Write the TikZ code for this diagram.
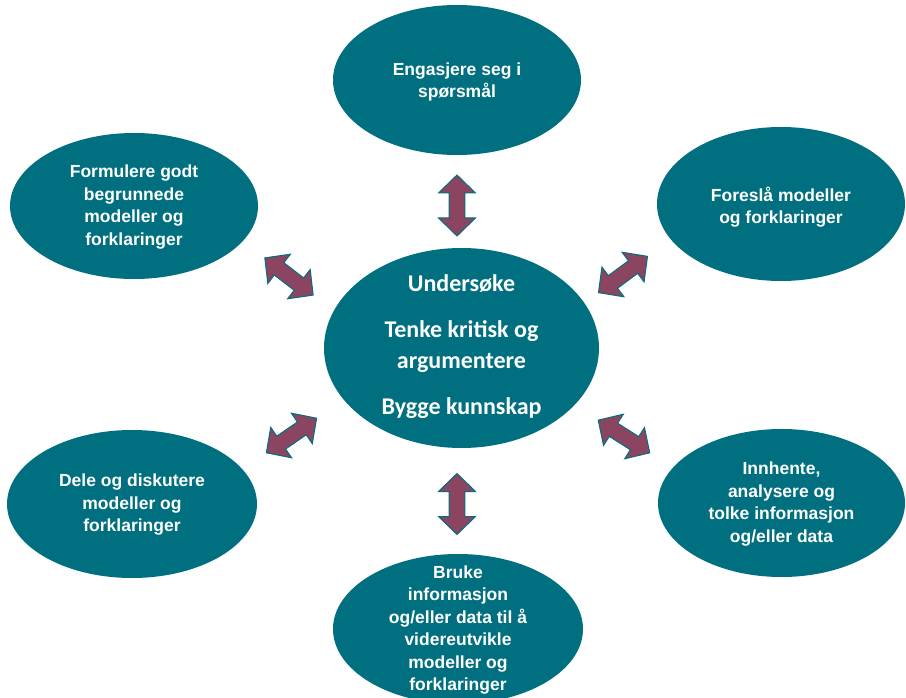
\documentclass[tikz,border=0pt]{standalone}
\usepackage{fontspec}
\setmainfont{Liberation Sans}
\newfontfamily\calib{Carlito}
\usetikzlibrary{shapes.geometric}
\definecolor{tealA}{RGB}{0,112,128}
\definecolor{plumA}{RGB}{139,69,96}
\begin{document}
\begin{tikzpicture}[x=1pt,y=-1pt,
  blob/.style={ellipse, fill=tealA, draw=none, inner sep=0pt},
  btext/.style={text=white, font=\fontsize{17.5}{22.5}\selectfont\bfseries, align=center, inner sep=0pt},
  ctext/.style={text=white, font=\calib\fontsize{24}{31}\selectfont\bfseries, align=center, inner sep=0pt},
  dblarrow/.pic={\filldraw[fill=plumA, draw=tealA, line width=1pt, line join=miter]
     (-30.5,0) -- (-12.5,18.5) -- (-12.5,7.8) -- (12.5,7.8) -- (12.5,18.5) -- (30.5,0)
     -- (12.5,-18.5) -- (12.5,-7.8) -- (-12.5,-7.8) -- (-12.5,-18.5) -- cycle;}
]
\useasboundingbox (0,0) rectangle (906,698);
\clip (0,0) rectangle (906,698);

% ellipses
\node[blob, minimum width=248pt, minimum height=150pt] (top) at (457,80) {};
\node[blob, minimum width=248pt, minimum height=146pt] (ul) at (134,206) {};
\node[blob, minimum width=248pt, minimum height=154pt] (ur) at (781,204) {};
\node[blob, minimum width=275pt, minimum height=200pt] (c) at (461.5,348) {};
\node[blob, minimum width=250pt, minimum height=148pt] (ll) at (132,504) {};
\node[blob, minimum width=247pt, minimum height=148pt] (lr) at (781.5,503) {};
\node[blob, minimum width=250pt, minimum height=150pt] (bot) at (458,629) {};

% texts
\node[btext] (toptxt) at (457,82) {Engasjere seg i\\spørsmål};
\node[btext] (ultxt) at (134,207) {Formulere godt\\begrunnede\\modeller og\\forklaringer};
\node[btext] (urtxt) at (781,207) {Foreslå modeller\\og forklaringer};
\node[ctext] (ctxt) at (461.5,347) {Undersøke\\[15pt]Tenke kritisk og\\argumentere\\[15pt]Bygge kunnskap};
\node[btext] (lltxt) at (132,505) {Dele og diskutere\\modeller og\\forklaringer};
\node[btext] (lrtxt) at (781.5,504) {Innhente,\\analysere og\\tolke informasjon\\og/eller data};
\node[btext] (bottxt) at (458,630) {Bruke\\informasjon\\og/eller data til å\\videreutvikle\\modeller og\\forklaringer};

% double arrows
\coordinate (aT) at (457,205.5);
\coordinate (aUL) at (289,276.5);
\coordinate (aUR) at (623,274.5);
\coordinate (aLL) at (291.5,435.5);
\coordinate (aLR) at (624,436.5);
\coordinate (aB) at (457,504);
\pic[rotate=90] at (aT) {dblarrow};
\pic[rotate=-37.6] at (aUL) {dblarrow};
\pic[rotate=36.5] at (aUR) {dblarrow};
\pic[rotate=34.5] at (aLL) {dblarrow};
\pic[rotate=-32.4] at (aLR) {dblarrow};
\pic[rotate=90] at (aB) {dblarrow};
\end{tikzpicture}
\end{document}
